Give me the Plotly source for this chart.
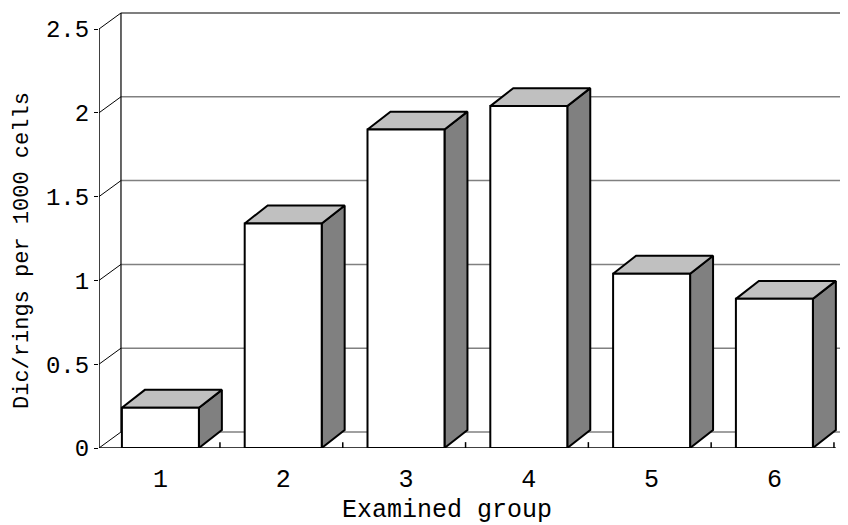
import plotly.graph_objects as go

# ---- data ----
groups = [1, 2, 3, 4, 5, 6]
group_labels = ["1", "2", "3", "4", "5", "6"]
values = [0.24, 1.34, 1.90, 2.04, 1.04, 0.89]
y_ticks = [0, 0.5, 1, 1.5, 2, 2.5]
y_tick_labels = ["0", "0.5", "1", "1.5", "2", "2.5"]
y_title = "Dic/rings per 1000 cells"
x_title = "Examined group"

# ---- 3D look parameters (in axis units) ----
PAGE_OFF = 8  # default body margin of the html page
bar_w = 0.627
bar_dx, bar_dy = 0.187, 0.107
wall_dx, wall_dy = 0.179, 0.0955
x_lo, x_hi = 0.5, 6.5
PX_X, PX_Y = 122.8, 167.6
x_max = 0.5 + (848 - 99) / PX_X
y_max = (448 - PAGE_OFF) / PX_Y
FONT = "Liberation Mono"

fig = go.Figure()

# back wall gridlines (gray) and top border (black)
gx, gy = [], []
for v in y_ticks[:-1]:
    gx += [x_lo + wall_dx, x_max, None]
    gy += [v + wall_dy, v + wall_dy, None]
fig.add_trace(go.Scatter(x=gx, y=gy, mode="lines",
                         line=dict(color="#808080", width=1.5), hoverinfo="skip"))
top = y_ticks[-1]
fig.add_trace(go.Scatter(
    x=[x_lo + wall_dx, x_lo + wall_dx, None, x_lo + wall_dx, x_max],
    y=[wall_dy, top + wall_dy, None, top + wall_dy, top + wall_dy],
    mode="lines", line=dict(color="black", width=1.2), hoverinfo="skip"))

# diagonals from front axis ticks to back wall
dx_, dy_ = [], []
for v in y_ticks:
    dx_ += [x_lo, x_lo + wall_dx, None]
    dy_ += [v, v + wall_dy, None]
fig.add_trace(go.Scatter(x=dx_, y=dy_, mode="lines",
                         line=dict(color="black", width=1), hoverinfo="skip"))

# front y axis line and front baseline
fig.add_trace(go.Scatter(x=[x_lo, x_lo, None, x_lo, x_hi],
                         y=[top, 0, None, 0, 0], mode="lines",
                         line=dict(color="black", width=1.5), hoverinfo="skip"))

# small upward ticks on baseline at category boundaries
tx, ty = [], []
for g in groups:
    tx += [g + 0.5 - 0.015, g + 0.5 - 0.015, None]
    ty += [0, 0.035, None]
fig.add_trace(go.Scatter(x=tx, y=ty, mode="lines",
                         line=dict(color="black", width=1.5), hoverinfo="skip"))

# bars: side, top, front faces
sx, sy, tpx, tpy, fx, fy = [], [], [], [], [], []
for g, v in zip(groups, values):
    l, r = g - bar_w / 2, g + bar_w / 2
    sx += [r, r + bar_dx, r + bar_dx, r, r, None]
    sy += [0, bar_dy, v + bar_dy, v, 0, None]
    tpx += [l, r, r + bar_dx, l + bar_dx, l, None]
    tpy += [v, v, v + bar_dy, v + bar_dy, v, None]
    fx += [l, r, r, l, l, None]
    fy += [0, 0, v, v, 0, None]
for xs, ys, col in [(sx, sy, "#808080"), (tpx, tpy, "#c0c0c0"), (fx, fy, "white")]:
    fig.add_trace(go.Scatter(x=xs, y=ys, mode="lines", fill="toself",
                             fillcolor=col, line=dict(color="black", width=2),
                             hoverinfo="skip"))

W, H = 848 - PAGE_OFF, 525 - PAGE_OFF
L, T = 99 - PAGE_OFF, 0
B = H - (448 - PAGE_OFF)
plot_w, plot_h = W - L, H - T - B

fig.update_layout(
    width=W, height=H,
    margin=dict(l=L, r=0, t=T, b=B, pad=0),
    paper_bgcolor="white", plot_bgcolor="white",
    showlegend=False,
    font=dict(family=FONT, color="black", size=24),
    xaxis=dict(range=[0.5, x_max], tickvals=groups, ticktext=group_labels,
               showgrid=False, zeroline=False, showline=False,
               ticks="outside", ticklen=8, tickcolor="rgba(0,0,0,0)",
               tickfont=dict(family=FONT, size=25)),
    yaxis=dict(range=[0, y_max], tickvals=y_ticks, ticktext=y_tick_labels,
               showgrid=False, zeroline=False, showline=False,
               ticks="outside", ticklen=4, tickcolor="black",
               tickfont=dict(family=FONT, size=24)),
    annotations=[
        dict(text=y_title, xref="paper", yref="paper",
             x=(22 - 99) / plot_w, y=(448 - 251) / plot_h, textangle=-90,
             showarrow=False, font=dict(family=FONT, size=22),
             xanchor="center", yanchor="middle"),
        dict(text=x_title, xref="paper", yref="paper",
             x=(447 - 99) / plot_w, y=(448 - 511) / plot_h,
             showarrow=False, font=dict(family=FONT, size=25),
             xanchor="center", yanchor="middle"),
    ],
)

fig.write_html("out.html")
